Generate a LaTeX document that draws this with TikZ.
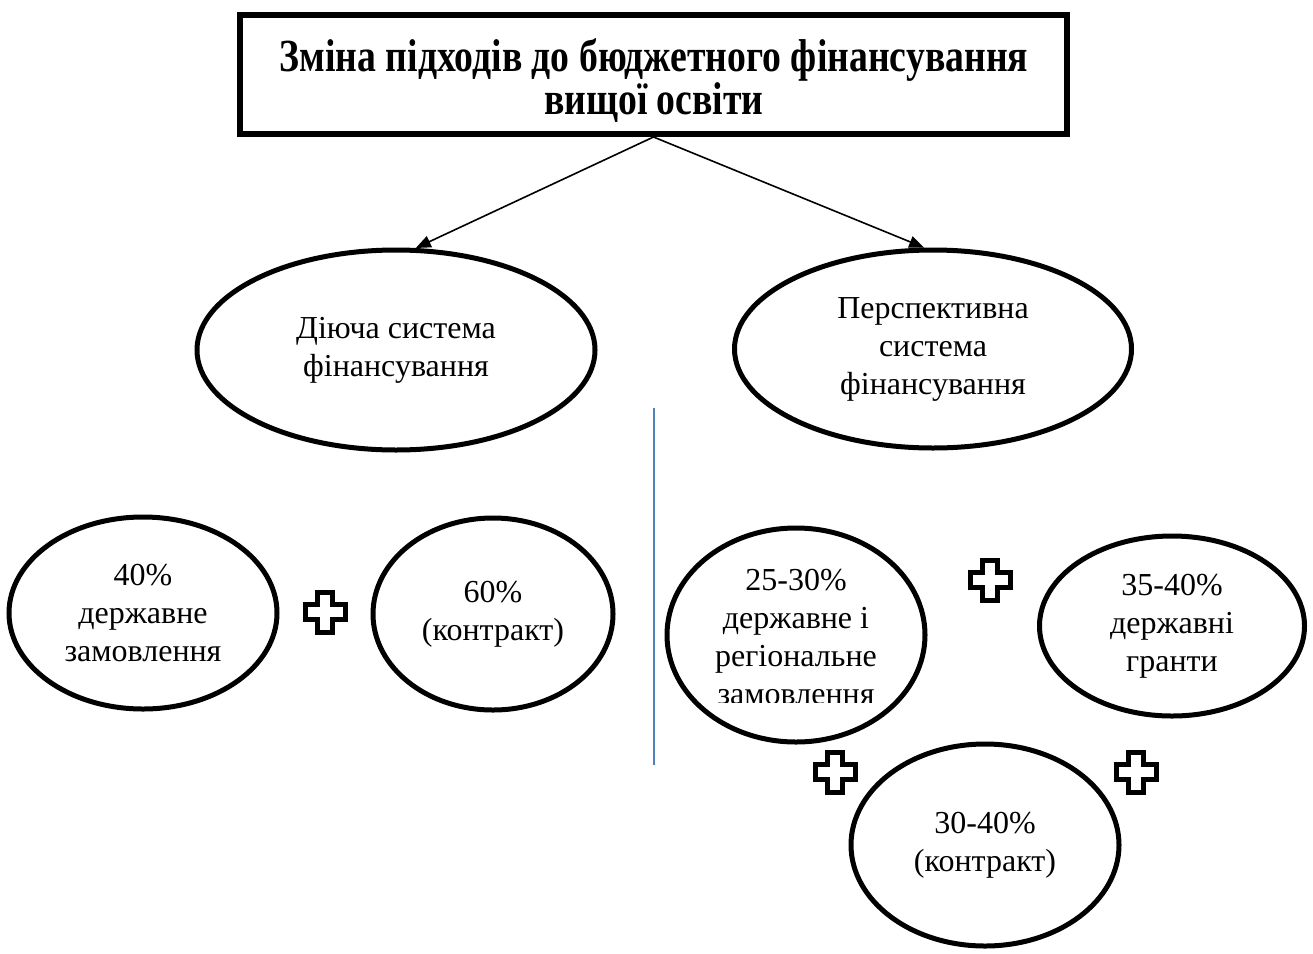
\documentclass[tikz,border=0pt]{standalone}
\usepackage{fontspec}
\setmainfont{Liberation Serif}
\newfontfamily\titlefont[FakeStretch=0.82]{Liberation Serif}
\usepackage{tikz}
\usetikzlibrary{arrows.meta,shapes.geometric}
\definecolor{divider}{RGB}{79,129,189}

\tikzset{
    oval/.style={ellipse, draw, line width=5pt, inner sep=0pt, align=center,
        font=\fontsize{32}{38}\selectfont},
    link/.style={-{Triangle[length=15pt,width=12pt]}, line width=1.6pt},
    plussign/.pic={
        \draw[line width=5pt, fill=white]
            (-7.5,-20) -- (7.5,-20) -- (7.5,-7.5) -- (20,-7.5) -- (20,7.5) -- (7.5,7.5)
            -- (7.5,20) -- (-7.5,20) -- (-7.5,7.5) -- (-20,7.5) -- (-20,-7.5) -- (-7.5,-7.5) -- cycle;
    }
}

\begin{document}
\begin{tikzpicture}[x=1pt, y=-1pt]
    \useasboundingbox (0,0) rectangle (1313,953);

    % title box
    \node[draw, line width=6pt, minimum width=827pt, minimum height=119pt] (title) at (653.5,74.5) {};
    \node[align=center, inner sep=0pt, font=\titlefont\bfseries\fontsize{46}{43}\selectfont]
        (titletext) at (654,81)
        {Зміна підходів до бюджетного фінансування\\вищої освіти};

    % two systems
    \node[oval, minimum width=398pt, minimum height=200pt] (active) at (396,350)
        {Діюча система\\фінансування};
    \node[oval, minimum width=397pt, minimum height=198pt] (future) at (933,349)
        {Перспективна\\система\\фінансування};

    \draw[link] (title.south) -- (active.79);
    \draw[link] (title.south) -- (future.95);

    % divider
    \coordinate (divtop) at (654,408);
    \coordinate (divbot) at (654,765);
    \draw[divider, line width=2pt] (divtop) -- (divbot);

    % current shares
    \node[oval, minimum width=268pt, minimum height=192pt] (stateorder) at (143,613)
        {40\%\\державне\\замовлення};
    \node[oval, minimum width=240pt, minimum height=192pt] (contract) at (493,614)
        {60\%\\(контракт)};
    \pic at (325,612) {plussign};

    % prospective shares
    \node[oval, minimum width=258pt, minimum height=214pt] (regorder) at (796,635) {};
    \begin{scope}
        \clip (670,540) rectangle (925,702);
        \node[align=center, font=\fontsize{32}{38}\selectfont] (regtext) at (796,637)
            {25-30\%\\державне і\\регіональне\\замовлення};
    \end{scope}
    \node[oval, minimum width=265pt, minimum height=180pt] (grants) at (1172,626)
        {35-40\%\\державні\\гранти};
    \node[oval, minimum width=268pt, minimum height=202pt] (newcontract) at (985,845)
        {30-40\%\\(контракт)};
    \pic at (990,580) {plussign};
    \pic at (835,772) {plussign};
    \pic at (1136,772) {plussign};
\end{tikzpicture}
\end{document}
